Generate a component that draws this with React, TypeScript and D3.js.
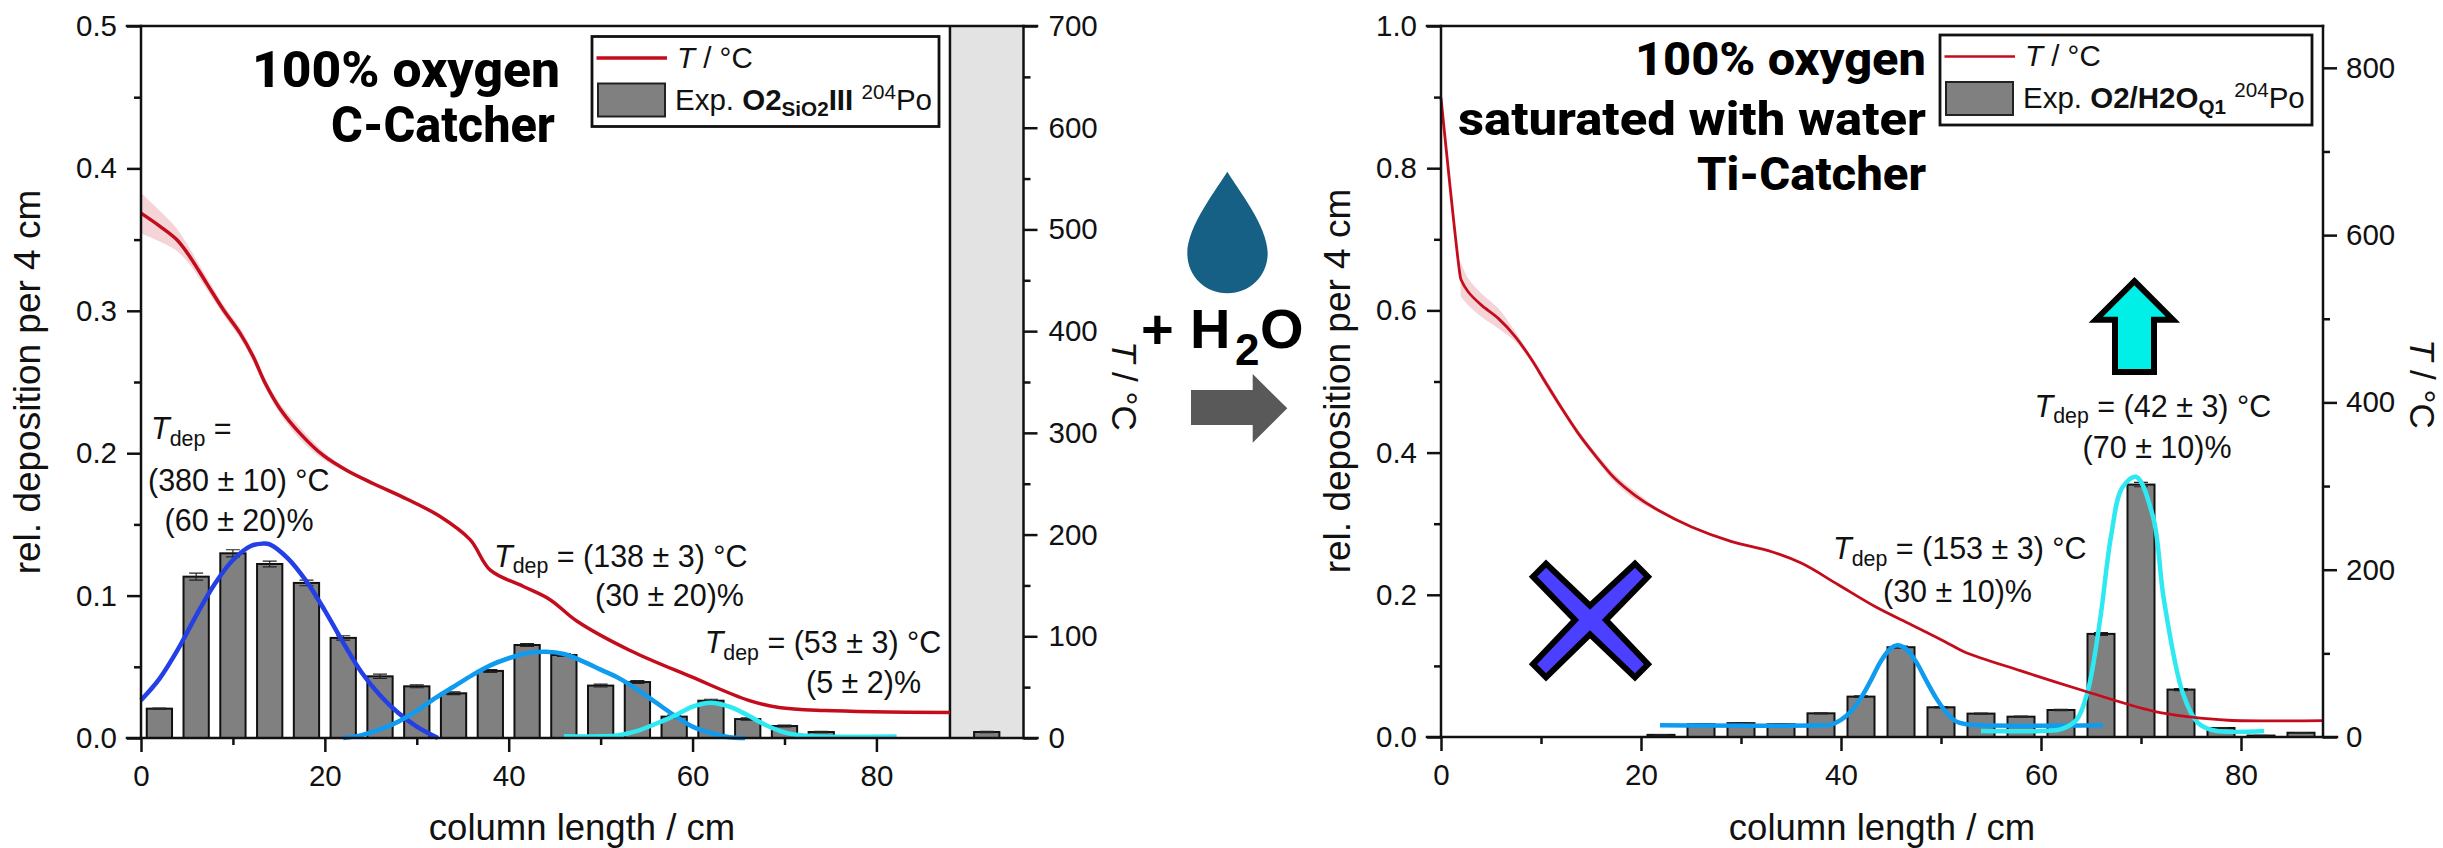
import React, { useEffect, useRef } from 'react'
import * as d3 from 'd3'

const ARIAL = '"Liberation Sans", Arial, sans-serif'
const TITLE_FONT = 'Roboto, "Noto Sans", sans-serif'

// left panel: 100% oxygen, C-Catcher
const leftBarX = [2, 6, 10, 14, 18, 22, 26, 30, 34, 38, 42, 46, 50, 54, 58, 62, 66, 70, 74, 92]
const leftBarY = [0.0206, 0.1133, 0.1297, 0.1222, 0.1089, 0.0703, 0.0433, 0.0363, 0.0314, 0.0471, 0.0653, 0.0583, 0.0368, 0.0393, 0.015, 0.0262, 0.0133, 0.0084, 0.0042, 0.0042]
const leftBarErr = [0.0004, 0.0025, 0.0025, 0.002, 0.002, 0.0015, 0.0015, 0.001, 0.001, 0.001, 0.001, 0.001, 0.001, 0.001, 0.001, 0.001, 0.0008, 0.0006, 0.0005, 0.0004]

const leftFit1 = [[0, 0.0265], [2, 0.0415], [4, 0.062], [6, 0.086], [8, 0.108], [10, 0.125], [12, 0.135], [13.2, 0.1365], [14, 0.136], [16, 0.126], [18, 0.11], [20, 0.0895], [22, 0.067], [24, 0.046], [26, 0.03], [28, 0.0175], [30, 0.008], [32.3, 0]]
const leftFit2 = [[22, 0], [24, 0.002], [26, 0.006], [28, 0.0115], [30, 0.019], [32, 0.028], [34, 0.036], [36, 0.044], [38, 0.051], [40, 0.056], [42, 0.0595], [44, 0.0605], [46, 0.059], [48, 0.054], [50, 0.048], [52, 0.042], [54, 0.034], [56, 0.025], [58, 0.016], [60, 0.008], [62, 0.0035], [64, 0.0005], [65.7, 0]]
const leftFit3 = [[46, 0.0012], [50, 0.0012], [52, 0.002], [54, 0.005], [56, 0.01], [58, 0.0155], [60, 0.022], [62, 0.0248], [64, 0.022], [66, 0.016], [68, 0.009], [70, 0.004], [72, 0.0017], [74, 0.001], [82.2, 0.001]]

const leftTemp = [[0, 516], [2.07, 503], [3.88, 490], [5.33, 473], [7.14, 447], [8.96, 421], [10.77, 398], [12.2, 375], [13.5, 349], [15.1, 324], [17.3, 299.5], [19.8, 278], [22.4, 263], [25.3, 250], [28.9, 235], [32.5, 218], [35.8, 195], [38, 165], [41.6, 149], [44.5, 136], [47.4, 115], [53.2, 86], [59.9, 60], [66.1, 37], [69.4, 30], [74.4, 27], [88, 25]]
const leftTempErr = [20, 15, 11, 8, 6, 5, 5, 5, 5, 5, 6, 4, 2, 2, 2, 1.5, 1, 0.5, 0.5, 0.5, 0.5, 0.5, 0.5, 0.5, 0.5, 0.5, 0.5]

// right panel: saturated with water, Ti-Catcher
const rightBarX = [22, 26, 30, 34, 38, 42, 46, 50, 54, 58, 62, 66, 70, 74, 78, 82, 86]
const rightBarY = [0.003, 0.018, 0.0195, 0.018, 0.0333, 0.0568, 0.1263, 0.0418, 0.0329, 0.0286, 0.038, 0.145, 0.355, 0.0667, 0.0127, 0.002, 0.006]
const rightBarErr = [0.0003, 0.0006, 0.0006, 0.0006, 0.0008, 0.001, 0.0015, 0.001, 0.0008, 0.0008, 0.0008, 0.002, 0.003, 0.0015, 0.0005, 0.0002, 0.0003]

const rightFit1 = [[21.9, 0.0164], [38, 0.0165], [39, 0.0175], [40, 0.024], [41, 0.036], [42, 0.055], [43, 0.08], [44, 0.107], [45, 0.125], [45.6, 0.129], [46.5, 0.124], [47.5, 0.106], [48.5, 0.08], [49.5, 0.055], [50.5, 0.035], [51.5, 0.022], [52.5, 0.018], [54, 0.0165], [66.2, 0.0164]]
const rightFit2 = [[54, 0.0085], [60, 0.0085], [62.1, 0.0115], [63.6, 0.025], [64.7, 0.066], [65.9, 0.164], [67, 0.282], [68.1, 0.35], [69.5, 0.366], [71.2, 0.31], [72.3, 0.192], [74.2, 0.061], [75.7, 0.02], [77.2, 0.0095], [82.3, 0.0085]]

const rightTemp = [[0, 764], [1.95, 549], [2.03, 546], [2.73, 532], [4.07, 516], [5.73, 500.5], [7.4, 479], [9.07, 451], [10.4, 425], [12.07, 393], [13.73, 363], [15.4, 337], [17.4, 309], [19.4, 289], [21.73, 271], [25.07, 251], [29.07, 233.5], [33.07, 221.5], [36.07, 207.6], [39.73, 182], [43.4, 156], [47.07, 134], [50.4, 114], [52.3, 102], [58, 79], [64.35, 55], [71.2, 31], [74.9, 24], [78.7, 20], [88.2, 19.5]]
const rightTempErr = [0, 20, 20, 16, 14, 12, 6, 4, 5, 4, 4, 4, 5, 5, 2, 1, 1, 1, 1, 0.5, 0.5, 0.5, 0.5, 0.5, 0.5, 0.5, 0.5, 0.5, 0.5, 0.5]

const xMajor = [0, 20, 40, 60, 80]
const xMinor = [10, 30, 50, 70]

const COL_DARK_BLUE = '#2340e6'
const COL_BLUE = '#0f9bef'
const COL_CYAN = '#2fe9f2'
const COL_RED = '#c30d1c'

type Part = { t: string; i?: boolean; b?: boolean; sub?: boolean; sup?: boolean; size?: number }

function richText(g: any, x: number, y: number, parts: Part[], size = 30.5, anchor = 'start') {
  const text = g.append('text').attr('x', x).attr('y', y).attr('font-family', ARIAL)
    .attr('font-size', size).attr('fill', '#111').attr('text-anchor', anchor).attr('xml:space', 'preserve')
  let shift = 0
  parts.forEach(p => {
    const next = p.sub ? size * 0.22 : p.sup ? -size * 0.36 : 0
    const span = text.append('tspan').attr('dy', next - shift)
      .attr('font-size', p.size || (p.sub || p.sup ? size * 0.7 : size)).text(p.t)
    if (p.i) span.attr('font-style', 'italic')
    if (p.b) span.attr('font-weight', 'bold')
    shift = next
  })
}

const tdep = (rest: string): Part[] => [{ t: 'T', i: true }, { t: 'dep', sub: true }, { t: ' = ' + rest }]

function drawAxes(g: any, x: any, y: any, yT: any, o: any) {
  const [left, right] = x.range()
  const [bottom, top] = y.range()
  const style = (a: any) => {
    a.select('.domain').remove()
    a.selectAll('line').attr('stroke', '#111').attr('stroke-width', 2.5)
    a.selectAll('text').attr('font-family', ARIAL).attr('font-size', 29.5).attr('fill', '#111')
  }
  // major and minor ticks are separate axes, the minor ones have no labels
  const axes: any[] = [
    [d3.axisBottom(x).tickValues(xMajor).tickSize(14).tickPadding(13).tickFormat(d3.format('d')), `translate(0,${bottom})`],
    [d3.axisBottom(x).tickValues(xMinor).tickSize(7).tickFormat(() => ''), `translate(0,${bottom})`],
    [d3.axisLeft(y).tickValues(o.yMajor).tickSize(14).tickPadding(10).tickFormat(d3.format('.1f')), `translate(${left},0)`],
    [d3.axisLeft(y).tickValues(o.yMinor).tickSize(7).tickFormat(() => ''), `translate(${left},0)`],
    [d3.axisRight(yT).tickValues(o.tMajor).tickSize(14).tickPadding(o.tPad).tickFormat(d3.format('d')), `translate(${right},0)`],
    [d3.axisRight(yT).tickValues(o.tMinor).tickSize(7).tickFormat(() => ''), `translate(${right},0)`],
  ]
  axes.forEach(([a, tr]) => g.append('g').attr('transform', tr).call(a).call(style))
  const frame = [
    [left, top, left, bottom],
    [right, top, right, bottom],
    [left - 14, top, o.topEnd, top],
    [left - 14, bottom, right + 14, bottom],
  ]
  frame.forEach(f => g.append('line').attr('x1', f[0]).attr('y1', f[1]).attr('x2', f[2]).attr('y2', f[3])
    .attr('stroke', '#111').attr('stroke-width', 2.5).attr('stroke-linecap', 'square'))
}

function drawPanel(g: any, x: any, y: any, yT: any, o: any) {
  const smooth = d3.curveCatmullRom.alpha(0.5)

  // temperature uncertainty band, starts where the error is known
  const bandData = o.temp.map((d: any, i: number) => [d[0], d[1], o.tempErr[i]]).filter((d: any) => d[0] >= (o.bandFrom || 0))
  const band = d3.area<any>().x(d => x(d[0])).y0(d => yT(d[1] - d[2])).y1(d => yT(d[1] + d[2])).curve(smooth)
  g.append('path').attr('d', band(bandData)).attr('fill', 'rgba(205,40,60,0.2)')

  // bars
  const w = x(o.barWidth) - x(0)
  g.selectAll('rect.bar').data(o.barX).enter().append('rect').attr('class', 'bar')
    .attr('x', (d: number) => x(d) - w / 2)
    .attr('width', w)
    .attr('y', (d: number, i: number) => y(o.barY[i]))
    .attr('height', (d: number, i: number) => y(0) - y(o.barY[i]))
    .attr('fill', '#808080').attr('stroke', '#111').attr('stroke-width', 2)

  // error bars
  o.barX.forEach((d: number, i: number) => {
    const hi = y(o.barY[i] + o.barErr[i])
    const lo = y(o.barY[i] - o.barErr[i])
    const path = `M${x(d) - 7},${hi}H${x(d) + 7}M${x(d)},${hi}V${lo}M${x(d) - 7},${lo}H${x(d) + 7}`
    g.append('path').attr('d', path).attr('fill', 'none').attr('stroke', '#222').attr('stroke-width', 1.2)
  })

  // fitted curves
  const fitLine = d3.line<any>().x(d => x(d[0])).y(d => y(d[1])).curve(smooth)
  o.fits.forEach((f: any) => {
    g.append('path').attr('d', fitLine(f.data)).attr('fill', 'none').attr('stroke', f.color)
      .attr('stroke-width', f.width || 4.5).attr('stroke-linecap', 'butt')
  })

  const tempLine = d3.line<any>().x(d => x(d[0])).y(d => yT(d[1])).curve(smooth)
  g.append('path').attr('d', tempLine(o.temp)).attr('fill', 'none').attr('stroke', COL_RED).attr('stroke-width', o.tempWidth)
}

function legend(g: any, o: any) {
  g.append('rect').attr('x', o.x0).attr('y', o.y0).attr('width', o.x1 - o.x0).attr('height', o.y1 - o.y0)
    .attr('fill', '#fff').attr('stroke', '#111').attr('stroke-width', 2.8)
  g.append('line').attr('x1', o.x0 + 4.5).attr('x2', o.x0 + 75).attr('y1', o.y0 + 21.5).attr('y2', o.y0 + 21.5)
    .attr('stroke', COL_RED).attr('stroke-width', o.lineWidth)
  g.append('rect').attr('x', o.x0 + 6).attr('y', o.y0 + 47).attr('width', 67).attr('height', 33)
    .attr('fill', '#808080').attr('stroke', '#222').attr('stroke-width', 2)
  richText(g, o.x0 + 85, o.y0 + 31, [{ t: 'T', i: true }, { t: ' / °C' }], 29.5)
  richText(g, o.x0 + 83, o.y0 + 73, o.label, 29.5)
}

function title(g: any, x: number, y: number, s: string, size: number, width: number) {
  g.append('text').attr('x', x - width).attr('y', y).attr('font-family', TITLE_FONT)
    .attr('font-weight', 800).attr('font-size', size).attr('fill', '#000')
    .attr('textLength', width).attr('lengthAdjust', 'spacingAndGlyphs').text(s)
}

function axisTitles(g: any, xMid: number, leftX: number, yMid: number, tX: number, tY: number) {
  g.append('text').attr('x', xMid).attr('y', 840).attr('text-anchor', 'middle').attr('font-family', ARIAL)
    .attr('font-size', 36.5).attr('fill', '#111').text('column length / cm')
  g.append('text').attr('transform', `translate(${leftX},${yMid}) rotate(-90)`).attr('text-anchor', 'middle')
    .attr('font-family', ARIAL).attr('font-size', 37).attr('fill', '#111').text('rel. deposition per 4 cm')
  const t = g.append('text').attr('transform', `translate(${tX},${tY}) rotate(90)`).attr('font-family', ARIAL)
    .attr('font-size', 35).attr('fill', '#111').attr('xml:space', 'preserve')
  t.append('tspan').attr('font-style', 'italic').text('T')
  t.append('tspan').text(' / °C')
}

export default function App() {
  const svgRef = useRef<SVGSVGElement>(null)

  useEffect(() => {
    const svg = d3.select(svgRef.current)
    svg.selectAll('*').remove()

    // ---- left panel ----
    const lg = svg.append('g')
    const x1 = d3.scaleLinear().domain([0, 96]).range([141, 1023.5])
    const y1 = d3.scaleLinear().domain([0, 0.5]).range([738, 26])
    const t1 = d3.scaleLinear().domain([0, 700]).range([738, 26])

    lg.append('rect').attr('x', x1(88)).attr('y', 26).attr('width', x1(96) - x1(88)).attr('height', 712).attr('fill', '#e3e3e3')
    lg.append('line').attr('x1', x1(88)).attr('x2', x1(88)).attr('y1', 26).attr('y2', 738).attr('stroke', '#111').attr('stroke-width', 2.5)

    drawPanel(lg, x1, y1, t1, {
      temp: leftTemp, tempErr: leftTempErr, tempWidth: 3.5, barWidth: 2.75,
      barX: leftBarX, barY: leftBarY, barErr: leftBarErr,
      fits: [
        { data: leftFit1, color: COL_DARK_BLUE },
        { data: leftFit2, color: COL_BLUE },
        { data: leftFit3, color: COL_CYAN },
      ],
    })
    drawAxes(lg, x1, y1, t1, {
      yMajor: [0, 0.1, 0.2, 0.3, 0.4, 0.5], yMinor: [0.05, 0.15, 0.25, 0.35, 0.45],
      tMajor: [0, 100, 200, 300, 400, 500, 600, 700], tMinor: [50, 150, 250, 350, 450, 550, 650],
      tPad: 11, topEnd: 1037,
    })
    legend(lg, {
      x0: 592, x1: 939, y0: 36.5, y1: 126.5, lineWidth: 3.5,
      label: [{ t: 'Exp. ' }, { t: 'O2', b: true }, { t: 'SiO2', b: true, sub: true }, { t: 'III', b: true }, { t: ' ' }, { t: '204', sup: true }, { t: 'Po' }],
    })
    title(lg, 560, 87, '100% oxygen', 50, 308)
    title(lg, 555, 142, 'C-Catcher', 50, 224)
    axisTitles(lg, 582, 40, 382, 1112, 341)

    richText(lg, 151, 439, [{ t: 'T', i: true }, { t: 'dep', sub: true }, { t: ' =' }])
    richText(lg, 148, 490.7, [{ t: '(380 ± 10) °C' }])
    richText(lg, 164.6, 530.7, [{ t: '(60 ± 20)%' }])
    richText(lg, 494, 566.7, tdep('(138 ± 3) °C'))
    richText(lg, 595, 605.7, [{ t: '(30 ± 20)%' }])
    richText(lg, 704.7, 653, tdep('(53 ± 3) °C'))
    richText(lg, 806, 693, [{ t: '(5 ± 2)%' }])

    // ---- arrow and water drop in between ----
    const mid = svg.append('g')
    mid.append('path')
      .attr('d', 'M1227.3,171.7 C1237,188 1267.7,226 1267.7,253.3 C1267.7,276 1249.7,293.3 1227.3,293.3 C1205,293.3 1187.3,276 1187.3,253.3 C1187.3,226 1217.5,188 1227.3,171.7 Z')
      .attr('fill', '#176085')
    mid.append('path')
      .attr('d', 'M1191,390 H1252.7 V374 L1287.3,408.3 L1252.7,442.7 V425 H1191 Z')
      .attr('fill', '#595959')
    const water = mid.append('text').attr('font-family', ARIAL).attr('font-weight', 'bold').attr('fill', '#000')
    water.append('tspan').attr('x', 1141).attr('y', 348).attr('font-size', 56).text('+')
    water.append('tspan').attr('x', 1190).attr('y', 348).attr('font-size', 56).text('H')
    water.append('tspan').attr('x', 1235).attr('y', 365).attr('font-size', 44).text('2')
    water.append('tspan').attr('x', 1260).attr('y', 348).attr('font-size', 56).text('O')

    // ---- right panel ----
    const rg = svg.append('g')
    const x2 = d3.scaleLinear().domain([0, 88.2]).range([1441, 2323])
    const y2 = d3.scaleLinear().domain([0, 1]).range([737, 26])
    const t2 = d3.scaleLinear().domain([0, 850]).range([737, 26])

    drawPanel(rg, x2, y2, t2, {
      temp: rightTemp, tempErr: rightTempErr, tempWidth: 2.8, barWidth: 2.7, bandFrom: 1.95,
      barX: rightBarX, barY: rightBarY, barErr: rightBarErr,
      fits: [
        { data: rightFit1, color: COL_BLUE },
        { data: rightFit2, color: COL_CYAN },
      ],
    })
    drawAxes(rg, x2, y2, t2, {
      yMajor: [0, 0.2, 0.4, 0.6, 0.8, 1], yMinor: [0.1, 0.3, 0.5, 0.7, 0.9],
      tMajor: [0, 200, 400, 600, 800], tMinor: [100, 300, 500, 700],
      tPad: 9, topEnd: 2323,
    })
    legend(rg, {
      x0: 1940, x1: 2312, y0: 35, y1: 125, lineWidth: 2.5,
      label: [{ t: 'Exp. ' }, { t: 'O2/H2O', b: true }, { t: 'Q1', b: true, sub: true }, { t: ' ' }, { t: '204', sup: true }, { t: 'Po' }],
    })
    title(rg, 1926, 75, '100% oxygen', 47, 291)
    title(rg, 1926, 135, 'saturated with water', 47, 468)
    title(rg, 1926, 190, 'Ti-Catcher', 47, 229)
    axisTitles(rg, 1882, 1350, 381, 2410, 339)

    richText(rg, 2034.6, 416.7, tdep('(42 ± 3) °C'))
    richText(rg, 2082.6, 458, [{ t: '(70 ± 10)%' }])
    richText(rg, 1833, 559, tdep('(153 ± 3) °C'))
    richText(rg, 1883, 601.7, [{ t: '(30 ± 10)%' }])

    // cyan up arrow and blue cross
    rg.append('path')
      .attr('d', 'M2134.4,281.2 L2172.9,319.7 H2154 V372 H2115 V319.7 H2095.9 Z')
      .attr('fill', '#00f0e8').attr('stroke', '#000').attr('stroke-width', 6).attr('stroke-linejoin', 'miter').attr('stroke-miterlimit', 6)
    rg.append('path')
      .attr('d', 'M1546,563.7 L1590,605.7 L1635,563.7 L1648,576.7 L1606,620 L1648,664.3 L1635,677.3 L1590,634.3 L1546,677.3 L1533,664.3 L1575,620 L1533,576.7 Z')
      .attr('fill', '#4b40ff').attr('stroke', '#000').attr('stroke-width', 6).attr('stroke-linejoin', 'miter')
  }, [])

  return (
    <svg
      ref={svgRef}
      width={2443}
      height={848}
      style={{ position: 'absolute', left: 0, top: 0, background: '#fff' }}
    />
  )
}
